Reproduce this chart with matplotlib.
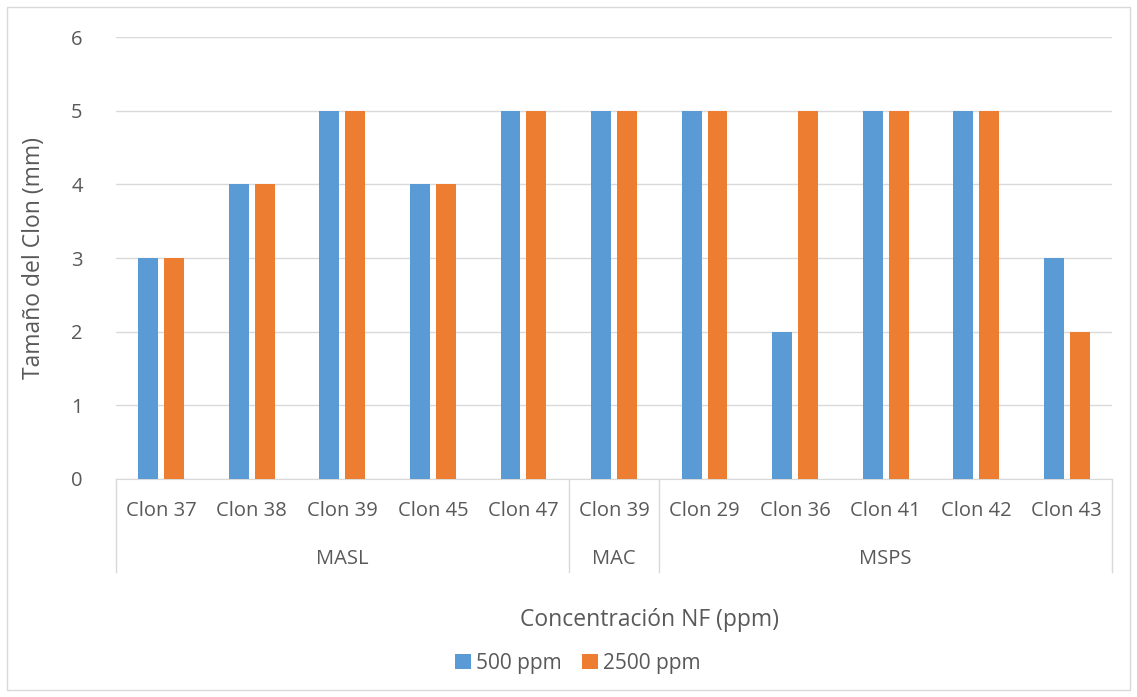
import numpy as np
import matplotlib.pyplot as plt
from matplotlib.patches import Rectangle

plt.rcParams['font.family'] = ['Open Sans', 'DejaVu Sans']

clones = ['Clon 37', 'Clon 38', 'Clon 39', 'Clon 45', 'Clon 47',
          'Clon 39',
          'Clon 29', 'Clon 36', 'Clon 41', 'Clon 42', 'Clon 43']
groups = ['MASL', 'MAC', 'MSPS']
group_sizes = [5, 1, 5]
ppm500 = [3, 4, 5, 4, 5, 5, 5, 2, 5, 5, 3]
ppm2500 = [3, 4, 5, 4, 5, 5, 5, 5, 5, 5, 2]

blue = '#5B9BD5'
orange = '#ED7D31'
txt = '#595959'
grid = '#D9D9D9'

fig = plt.figure(figsize=(11.37, 6.97), dpi=100)
fig.patches.append(Rectangle((0.006, 0.01), 0.988, 0.98, transform=fig.transFigure,
                             fill=False, edgecolor='#D9D9D9', linewidth=1))
ax = fig.add_axes([116 / 1137, 218 / 697, 996 / 1137, 442 / 697])

x = np.arange(len(clones))
w = 0.22
ax.bar(x - 0.143, ppm500, w, color=blue, label='500 ppm', zorder=3)
ax.bar(x + 0.143, ppm2500, w, color=orange, label='2500 ppm', zorder=3)

ax.set_xlim(-0.5, len(clones) - 0.5)
ax.set_ylim(0, 6)
ax.set_yticks(range(7))
ax.yaxis.grid(True, color=grid, linewidth=1, zorder=0)
ax.tick_params(axis='y', length=0, labelsize=14.5, labelcolor=txt, pad=24)
ax.set_xticks([])
for s in ['top', 'right', 'left']:
    ax.spines[s].set_visible(False)
ax.spines['bottom'].set_color(grid)

tr = ax.get_xaxis_transform()
for i, c in enumerate(clones):
    ax.text(i, -0.072, c, transform=tr, ha='center', va='center',
            fontsize=14.5, color=txt)

start = 0
edges = [-0.5]
for g, n in zip(groups, group_sizes):
    ax.text(start + (n - 1) / 2, -0.181, g, transform=tr, ha='center',
            va='center', fontsize=14.5, color=txt)
    start += n
    edges.append(start - 0.5)
for e in edges:
    ax.plot([e, e], [0, -0.21], transform=tr, color=grid, linewidth=1,
            clip_on=False)

ax.set_ylabel('Tamaño del Clon (mm)', fontsize=16.5, color=txt, labelpad=18)
fig.text(650 / 1137, 1 - 620 / 697, 'Concentración NF (ppm)', ha='center',
         va='center', fontsize=16.5, color=txt)
fig.legend(loc='center', bbox_to_anchor=(578 / 1137, 1 - 663 / 697), ncol=2,
           frameon=False, fontsize=15, labelcolor=txt, handlelength=0.75,
           handleheight=0.75, handletextpad=0.25, columnspacing=1.0)

fig.savefig('out.png', dpi=100)
